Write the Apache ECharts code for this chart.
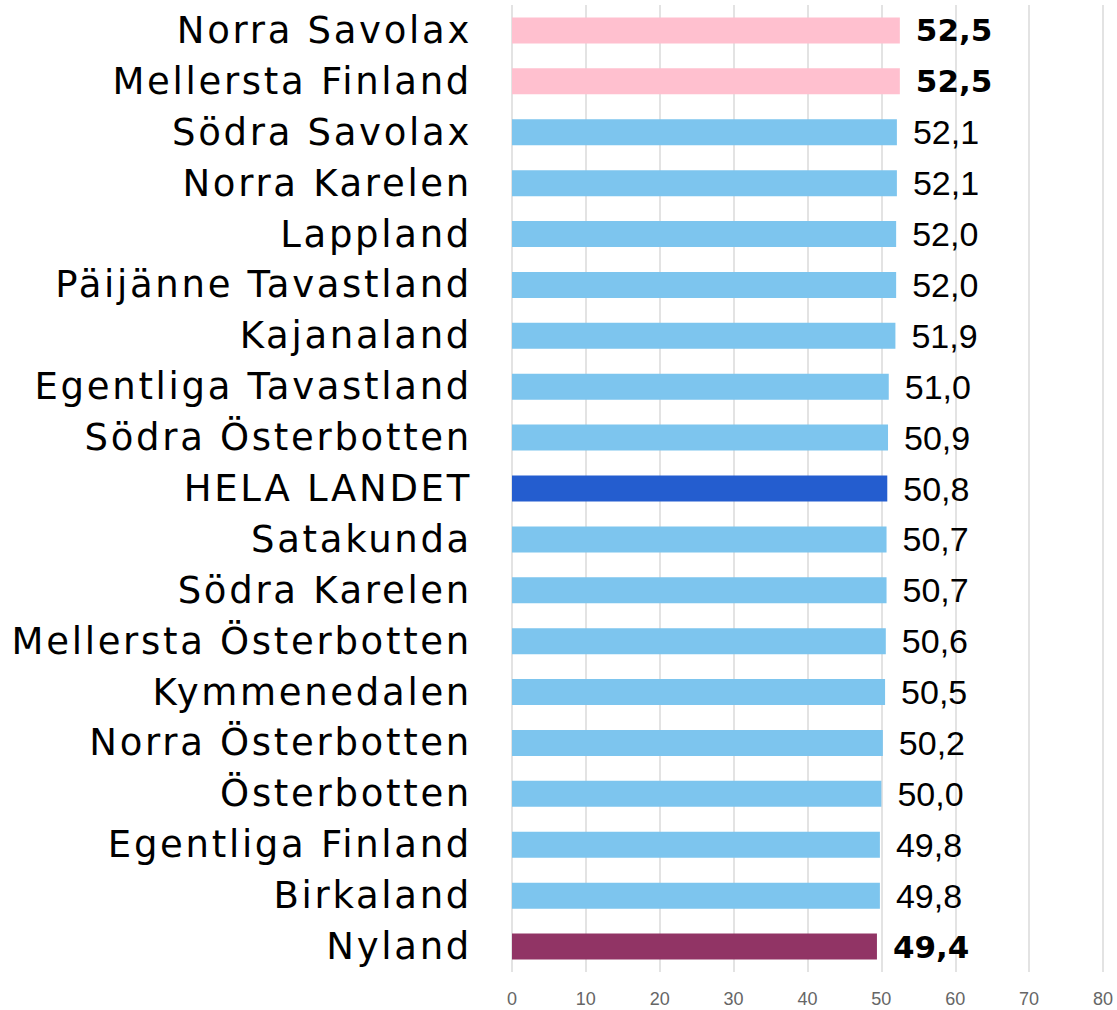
<!DOCTYPE html>
<html>
<head>
<meta charset="utf-8">
<script src="https://cdn.jsdelivr.net/npm/echarts@6/dist/echarts.min.js"></script>
<style>
  html, body { margin: 0; padding: 0; background: #fff; }
  #chart { width: 1117px; height: 1010px; }
  /* region names are set wide in the original */
  #chart text[text-anchor="end"] { letter-spacing: 2.7px; }
</style>
</head>
<body>
<div id="chart"></div>
<script>
const regions = [
  'Norra Savolax', 'Mellersta Finland', 'Södra Savolax', 'Norra Karelen',
  'Lappland', 'Päijänne Tavastland', 'Kajanaland', 'Egentliga Tavastland',
  'Södra Österbotten', 'HELA LANDET', 'Satakunda', 'Södra Karelen',
  'Mellersta Österbotten', 'Kymmenedalen', 'Norra Österbotten', 'Österbotten',
  'Egentliga Finland', 'Birkaland', 'Nyland'
]
const values = [
  52.5, 52.5, 52.1, 52.1, 52.0, 52.0, 51.9, 51.0, 50.9, 50.8,
  50.7, 50.7, 50.6, 50.5, 50.2, 50.0, 49.8, 49.8, 49.4
]
const highest = ['Norra Savolax', 'Mellersta Finland']
const lowest = ['Nyland']
const total = 'HELA LANDET'
const xTicks = [0, 10, 20, 30, 40, 50, 60, 70, 80]

function barColor(name) {
  if (highest.includes(name)) return '#ffc0cf'
  if (lowest.includes(name)) return '#913465'
  if (name === total) return '#245dcf'
  return '#7dc5ee'
}

const chart = echarts.init(document.getElementById('chart'), null, { renderer: 'svg' })
const option = {
  animation: false,
  grid: { left: 512, right: 14, top: 5, bottom: 38 },
  xAxis: {
    type: 'value',
    min: xTicks[0],
    max: xTicks[xTicks.length - 1],
    interval: 10,
    axisLine: { show: false },
    axisTick: { show: false },
    splitLine: { show: true, lineStyle: { color: '#dadada', width: 1.5 } },
    axisLabel: {
      color: '#666',
      fontSize: 18,
      fontFamily: 'Liberation Sans',
      margin: 18
    }
  },
  yAxis: {
    type: 'category',
    inverse: true,
    data: regions,
    axisLine: { show: false },
    axisTick: { show: false },
    axisLabel: {
      color: '#000',
      fontSize: 37,
      fontFamily: 'DejaVu Sans',
      margin: 40
    }
  },
  series: [
    {
      type: 'bar',
      barWidth: 26,
      data: regions.map((name, i) => {
        const bold = highest.includes(name) || lowest.includes(name)
        return {
          value: values[i],
          itemStyle: { color: barColor(name) },
          label: bold
            ? { fontWeight: 'bold', fontFamily: 'DejaVu Sans', fontSize: 31 }
            : {}
        }
      }),
      label: {
        show: true,
        position: 'right',
        distance: 16,
        color: '#000',
        fontSize: 34,
        fontFamily: 'Liberation Sans',
        formatter: p => p.value.toFixed(1).replace('.', ',')
      }
    }
  ]
}
option && chart.setOption(option)
</script>
</body>
</html>
